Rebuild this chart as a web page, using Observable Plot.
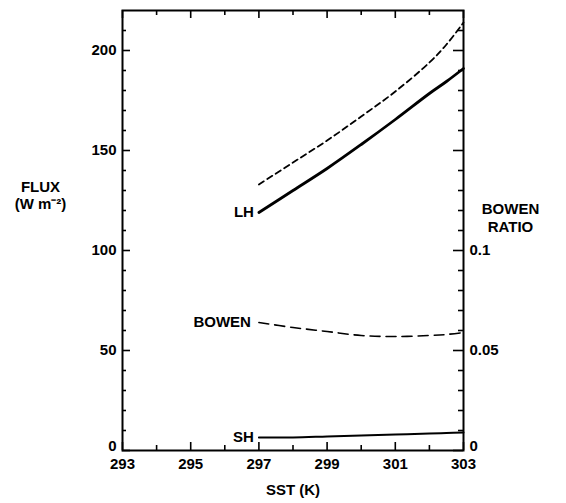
<!DOCTYPE html>
<html><head><meta charset="utf-8">
<script src="https://cdn.jsdelivr.net/npm/d3@7"></script>
<script src="https://cdn.jsdelivr.net/npm/@observablehq/plot@0.6"></script>
<style>body{margin:0;background:#fff} svg{display:block}</style>
</head><body><div id="chart"></div>
<script>
// Data
const sst = [297, 298, 299, 300, 301, 302, 302.5, 303];
const lhFlux = [119, 130, 141, 153, 165.5, 178.5, 184.5, 191];
const upperFlux = [133, 144, 155, 167, 179.5, 194, 203, 214];
const shFlux = [6.5, 6.5, 7, 7.5, 8, 8.5, 8.7, 9];
const bowenRatio = [0.064, 0.0615, 0.0595, 0.0575, 0.057, 0.0575, 0.058, 0.059];

const xMajor = [293, 295, 297, 299, 301, 303];
const xMinor = [294, 296, 298, 300, 302];
const yLabels = [50, 100, 150, 200];
const yZero = [0];
const yMajor = [0, 50, 100, 150, 200];
const yMinor = d3.range(10, 220, 10).filter(v => v % 50 !== 0);
const ratioLabels = [0.05, 0.1];
const ratioZero = [0];
const ratioMajor = [0, 0.05, 0.1, 0.15, 0.2];
const ratioMinor = d3.range(1, 22).map(i => i / 100).filter(v => Math.round(v * 100) % 5 !== 0);
const RATIO_SCALE = 1000; // Bowen ratio 0.1 ↔ 100 W m-2 on the left axis

const W = 566, H = 503;
const mL = 122, mR = 103, mT = 10, mB = 53;
const pw = W - mL - mR, ph = H - mT - mB;
const font = "'Liberation Sans', Arial, Helvetica, sans-serif";

const mk = (ys) => sst.map((x, i) => ({x, y: ys[i]}));
const lh = mk(lhFlux), up = mk(upperFlux), sh = mk(shFlux);
const bw = mk(bowenRatio.map(r => r * RATIO_SCALE));

const tickStyle = {stroke: "black", strokeWidth: 1.6};
const lbl = {fontSize: 15, fontWeight: "bold"};
const chart = Plot.plot({
  width: W, height: H,
  marginLeft: mL, marginRight: mR, marginTop: mT, marginBottom: mB,
  style: {fontFamily: font, fontSize: "14px", fontWeight: "bold", background: "white", color: "black"},
  x: {domain: [293, 303], axis: null},
  y: {domain: [0, 220], axis: null},
  marks: [
    Plot.frame({stroke: "black", strokeWidth: 2}),
    // left ticks (inward)
    Plot.tickY(yMajor, {y: d => d, ...tickStyle, insetRight: pw - 8}),
    Plot.tickY(yMinor, {y: d => d, ...tickStyle, insetRight: pw - 4}),
    // right ticks (inward)
    Plot.tickY(ratioMajor, {y: d => d * RATIO_SCALE, ...tickStyle, insetLeft: pw - 10}),
    Plot.tickY(ratioMinor, {y: d => d * RATIO_SCALE, ...tickStyle, insetLeft: pw - 5}),
    // bottom ticks
    Plot.tickX(xMajor, {x: d => d, ...tickStyle, insetTop: ph - 8}),
    Plot.tickX(xMinor, {x: d => d, ...tickStyle, insetTop: ph - 5}),
    // top ticks
    Plot.tickX(xMajor, {x: d => d, ...tickStyle, insetBottom: ph - 8}),
    Plot.tickX(xMinor, {x: d => d, ...tickStyle, insetBottom: ph - 5}),
    // tick labels
    Plot.text(yLabels, {y: d => d, frameAnchor: "left", dx: -6, textAnchor: "end", text: d => String(d), ...lbl}),
    Plot.text(yZero, {y: d => d, frameAnchor: "left", dx: -6, dy: -4, textAnchor: "end", text: d => String(d), ...lbl}),
    Plot.text(ratioLabels, {y: d => d * RATIO_SCALE, frameAnchor: "right", dx: 6, textAnchor: "start", text: d => String(d), ...lbl}),
    Plot.text(ratioZero, {y: d => d * RATIO_SCALE, frameAnchor: "right", dx: 6, dy: -4, textAnchor: "start", text: d => String(d), ...lbl}),
    Plot.text(xMajor, {x: d => d, frameAnchor: "bottom", dy: 18, text: d => String(d), ...lbl}),
    // curves
    Plot.line(up, {x: "x", y: "y", stroke: "black", strokeWidth: 1.8, strokeDasharray: "6,4", curve: "catmull-rom"}),
    Plot.line(lh, {x: "x", y: "y", stroke: "black", strokeWidth: 2.8, curve: "catmull-rom"}),
    Plot.line(bw, {x: "x", y: "y", stroke: "black", strokeWidth: 1.6, strokeDasharray: "10,6", curve: "catmull-rom"}),
    Plot.line(sh, {x: "x", y: "y", stroke: "black", strokeWidth: 2, curve: "catmull-rom"}),
    // curve labels
    Plot.text([lh[0]], {x: "x", y: "y", text: () => "LH", textAnchor: "end", dx: -5, ...lbl}),
    Plot.text([bw[0]], {x: "x", y: "y", text: () => "BOWEN", textAnchor: "end", dx: -8, ...lbl}),
    Plot.text([sh[0]], {x: "x", y: "y", text: () => "SH", textAnchor: "end", dx: -5, ...lbl}),
    // axis titles
    Plot.text(["FLUX"], {frameAnchor: "left", dx: -82, dy: -43, text: d => d, textAnchor: "middle", ...lbl}),
    Plot.text(["(W m⁻²)"], {frameAnchor: "left", dx: -82, dy: -26, text: d => d, textAnchor: "middle", ...lbl}),
    Plot.text(["BOWEN"], {frameAnchor: "right", dx: 47, dy: -21, text: d => d, textAnchor: "middle", ...lbl}),
    Plot.text(["RATIO"], {frameAnchor: "right", dx: 47, dy: -3, text: d => d, textAnchor: "middle", ...lbl}),
    Plot.text(["SST (K)"], {frameAnchor: "bottom", dy: 44, text: d => d, textAnchor: "middle", ...lbl})
  ]
});
document.getElementById("chart").appendChild(chart);
</script>
</body></html>
